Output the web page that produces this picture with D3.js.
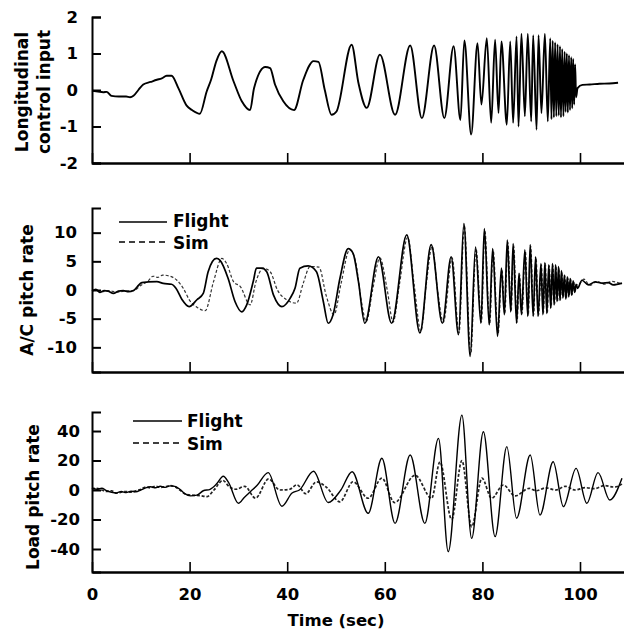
<!DOCTYPE html>
<html><head><meta charset="utf-8">
<script src="https://cdn.jsdelivr.net/npm/d3@7"></script>
<style>
html,body{margin:0;padding:0;background:#fff;}
svg{display:block;}
text{font-family:"DejaVu Sans",sans-serif;font-weight:bold;fill:#000;}
</style></head>
<body>
<svg id="chart" width="624" height="634"></svg>
<script>
// ---------------- DATA ----------------
const xTicks = [0, 20, 40, 60, 80, 100];
const controlTicks = [-2, -1, 0, 1, 2];
const acTicks = [-10, -5, 0, 5, 10];
const loadTicks = [-40, -20, 0, 20, 40];
const legendLabels = ["Flight", "Sim"];
const yTitles = [["Longitudinal", "control input"], ["A/C pitch rate"], ["Load pitch rate"]];
const xTitle = "Time (sec)";

// Longitudinal control input [time, value]
const controlInput = [[0,-0.02],[1.2,-0.04],[2.3,-0.06],[3,-0.05],[4,-0.16],[5.5,-0.18],[7,-0.18],[7.8,-0.2],[8.5,-0.16],[9.5,0.0],[10.5,0.15],[12,0.22],[13.3,0.28],[14.3,0.32],[15.3,0.39],[16.3,0.39],[17.7,0.05],[19.4,-0.43],[20.5,-0.55],[22.1,-0.65],[23.5,-0.04],[24.4,0.28],[25.5,0.8],[26.6,1.06],[29,0.24],[30.7,-0.31],[32.4,-0.55],[33.2,0.05],[35.5,0.63],[36.5,0.6],[37.5,0.15],[39.2,-0.31],[41.4,-0.55],[43.3,0.28],[45.4,0.79],[46.4,0.77],[47.7,0.0],[49.1,-0.68],[50.1,-0.59],[53.2,1.24],[54.6,0.19],[56.3,-0.49],[59,0.97],[62.1,-0.68],[65.2,1.22],[67.6,-0.77],[70.1,1.22],[72.2,-0.77],[74.1,1.2],[75.5,-0.82],[76.3,1.36],[77.7,-1.22],[79.0,1.28],[79.8,-0.40],[80.9,1.42],[81.8,-0.90],[82.6,1.38],[83.3,-0.63],[83.9,1.33],[85.0,-0.95],[85.7,1.33],[86.3,-0.9],[87.0,1.47],[87.4,-1.0],[88.0,1.54],[88.7,-0.72],[89.3,1.54],[90.0,-0.86],[90.4,1.5],[91.1,-1.09],[91.5,1.5],[92.1,-0.63],[92.8,1.54],[93.4,-0.86],[93.9,1.42],[94.15,-0.8],[94.4,1.35],[94.65,-0.75],[94.9,1.3],[95.15,-0.72],[95.4,1.25],[95.65,-0.7],[95.9,1.2],[96.1,-0.75],[96.35,1.12],[96.6,-0.72],[96.85,1.05],[97.05,-0.6],[97.3,1.0],[97.5,-0.62],[97.75,0.95],[97.95,-0.55],[98.2,0.9],[98.4,-0.5],[98.6,0.85],[98.8,-0.4],[99.0,0.7],[99.2,-0.2],[99.5,0.05],[100.5,0.14],[102,0.15],[104,0.17],[106,0.18],[107.8,0.2]];

// A/C pitch rate
const acFlight = [[0,-0.2],[0.8,0.1],[1.6,-0.4],[2.5,-0.1],[3.3,-0.2],[4.4,-0.6],[5.4,-0.2],[6.4,-0.1],[7.5,-0.3],[8.5,-0.1],[9.3,0.6],[10.2,1.3],[11.5,1.4],[13.3,1.45],[14.6,1.15],[16.3,1.0],[17.2,0.3],[18.4,-1.6],[19.9,-2.9],[21.5,-1.7],[22.8,-0.6],[23.8,3.2],[25.5,5.5],[26.2,5.2],[27.9,2.0],[29.3,-2.0],[30.7,-3.8],[31.7,-2.6],[33.1,1.7],[33.7,3.8],[34.8,3.8],[35.8,3.2],[37.2,-0.9],[38.9,-2.9],[40.6,-1.45],[41.6,0.3],[42.6,3.8],[44.3,4.2],[46,3.2],[47.4,-2.0],[48.4,-5.8],[49.4,-4.3],[50.8,2.0],[52.5,7.2],[53.5,6.4],[54.6,1.45],[55.9,-5.8],[58.7,5.8],[61.4,-5.8],[64.5,9.6],[67.2,-7.5],[69.5,7.9],[71.8,-5.8],[73.6,5.8],[75.1,-7.8],[76.2,11.6],[77.5,-11.6],[78.6,7.5],[79.7,-5.8],[80.4,10.7],[81.4,-6.1],[82.1,7.2],[83.1,-8.1],[83.9,3.8],[84.5,-4.3],[85.1,8.7],[85.8,-3.8],[86.3,8.1],[87.0,-5.8],[87.5,2.9],[88.0,-4.3],[88.7,7.0],[89.3,-4.6],[89.8,7.9],[90.4,-4.6],[90.9,5.8],[91.4,-4.6],[92.0,4.6],[92.4,-4.3],[92.8,4.8],[93.2,-4.1],[93.6,4.4],[94.0,-3.2],[94.35,4.6],[94.7,-2.6],[95.0,4.4],[95.3,-2.0],[95.6,4.1],[95.9,-1.8],[96.2,3.4],[96.5,-1.4],[96.8,2.6],[97.1,-1.6],[97.4,2.3],[97.7,-1.2],[98.0,2.0],[98.3,-0.9],[98.6,1.6],[98.9,-0.4],[99.2,1.0],[99.5,0.3],[100.4,1.7],[101.7,0.9],[103.1,1.4],[104.5,1.2],[105.8,1.3],[106.8,0.9],[108.6,1.2]];
const acSim = [[0,-0.1],[1,0.0],[2,-0.3],[3.5,-0.1],[5,-0.4],[6.5,-0.2],[8.5,-0.1],[10,0.8],[11.5,1.6],[12.5,2.4],[13.5,2.2],[14.5,2.6],[16,2.4],[17.4,1.7],[18.7,0.3],[20,-1.8],[21.5,-3.0],[23.2,-3.6],[24.9,1.45],[26.6,5.5],[27.6,4.6],[29,1.45],[30.4,0.6],[32.4,-2.6],[33.6,1.45],[35.1,3.8],[36.5,3.2],[38,0.0],[39.9,-1.7],[41.9,-2.3],[43.3,1.2],[44.7,4.1],[46.5,4.0],[48,-1.0],[49.6,-4.3],[51,1.0],[52.8,7.0],[54.0,5.0],[55.2,-2.0],[56.2,-5.5],[57.5,0.0],[59.0,5.6],[60.5,0.0],[61.7,-5.6],[63,1.0],[64.7,9.2],[66,1.0],[67.4,-7.2],[68.5,1.0],[69.7,7.6],[70.8,0.0],[72.0,-5.6],[73.8,5.6],[75.2,-7.5],[76.3,11.2],[77.6,-11.2],[78.7,7.2],[79.8,-5.6],[80.5,10.4],[81.5,-6.0],[82.2,7.0],[83.2,-7.8],[84.0,3.6],[84.6,-4.2],[85.2,8.4],[85.9,-3.6],[86.4,7.8],[87.1,-5.6],[87.6,2.8],[88.1,-4.2],[88.8,6.8],[89.4,-4.4],[89.9,7.6],[90.5,-4.4],[91.0,5.6],[91.5,-4.4],[92.1,4.4],[92.5,-4.1],[92.9,4.6],[93.3,-4.0],[93.7,4.2],[94.1,-3.0],[94.45,4.4],[94.8,-2.5],[95.1,4.2],[95.4,-2.0],[95.7,3.9],[96.0,-1.7],[96.3,3.2],[96.6,-1.3],[96.9,2.5],[97.2,-1.5],[97.5,2.2],[97.8,-1.0],[98.1,1.9],[98.4,-0.8],[98.7,1.5],[99.0,-0.3],[99.3,0.9],[99.8,1.0],[100.8,1.9],[102,0.8],[103.5,1.5],[105,1.0],[106.5,1.5],[108.6,1.0]];

// Load pitch rate
const loadFlight = [[0,1.5],[1,0.5],[2,1.2],[3,-0.5],[4,-1.5],[5,-2],[6,-1],[7,-1.8],[8,-0.8],[9,-1.2],[10,0],[11,1.5],[12,2.2],[13,1.5],[14,2.5],[15,1.8],[16,2.8],[17,2.5],[18,0.5],[19,-2.5],[20.2,-4],[21.5,-3.5],[22.8,-0.5],[24.2,0.5],[25.5,4],[26.9,9.3],[28,5],[30,-9],[31.2,-5],[32.5,-1],[33.8,3],[36.1,11.8],[38.9,-11],[41,-2],[42.5,0],[45.4,12.7],[48.4,-8.5],[51,0],[53.3,12.4],[56.6,-15.8],[59.4,21.5],[62.1,-22.6],[65.2,23.7],[68.2,-22.6],[71.0,35],[73.0,-41.8],[75.8,50.8],[77.8,-32.8],[80.2,39.5],[82.6,-31.6],[85,29.4],[87,-19.2],[89.8,23.7],[91.8,-17],[94.5,19.2],[96.6,-11.3],[99.2,14.7],[101.4,-9.0],[103.7,11.8],[106.1,-6.8],[108.6,8]];
const loadSim = [[0,0.5],[1,1.2],[2,0],[3,-1],[4,-0.5],[5,-2.2],[6,-1.5],[7,-1],[8,-1.5],[9,-0.5],[10,0.5],[11,2],[12,1.5],[13,2.5],[14,1.8],[15,2.2],[16,3],[17,2.2],[18,0],[19,-2.5],[20.5,-3.5],[22.1,-3.8],[23.5,-4.5],[25,0],[26.8,6.5],[28.2,2],[29.5,0.5],[31.3,2.5],[33.5,-5.5],[36.2,7.5],[38.5,0],[40.5,0.5],[42,3.5],[43.8,-2.5],[46,5.5],[48,2],[50.8,-8],[53.5,5.6],[56.6,-5.6],[59.4,8],[62,-8.5],[66.2,10],[69.6,-5.6],[71.3,19],[73.7,-20],[75.8,20],[77.8,-25],[79.9,8],[81.9,-5.6],[84.3,3.4],[86.7,-4],[89.6,1.1],[91,-0.5],[93,1.5],[95,0],[97,2.5],[99,0],[101,1.6],[103,1],[105,3],[107,2],[108.6,4]];

// ---------------- DRAW ----------------
const svg = d3.select("#chart");
const x = d3.scaleLinear().domain([0, 110]).range([92, 628.8]);
const fmt = d => String(d);

const panels = [
  {y: d3.scaleLinear().domain([-2, 2]).range([163, 17]), ticks: controlTicks, pad: 14,
   series: [{data: controlInput, w: 1.9, dash: null, color: "#000"}],
   titles: yTitles[0], titleX: [28, 50], titleY: 92, labels: false, legend: null},
  {y: d3.scaleLinear().domain([-14.3, 14.3]).range([372, 208]), ticks: acTicks, pad: 15,
   series: [{data: acSim, w: 1.2, dash: "3,2", color: "#333"}, {data: acFlight, w: 1.7, dash: null, color: "#000"}],
   titles: yTitles[1], titleX: [33], titleY: 290, labels: false,
   legend: {x1: 119, x2: 167, y: [222, 242], tx: 173, ty: [227, 249]}},
  {y: d3.scaleLinear().domain([-55.6, 52.9]).range([572, 412]), ticks: loadTicks, pad: 12,
   series: [{data: loadSim, w: 1.7, dash: "3,1.8", color: "#222"}, {data: loadFlight, w: 1.4, dash: null, color: "#000"}],
   titles: yTitles[2], titleX: [39], titleY: 497, labels: true,
   legend: {x1: 133, x2: 182, y: [421, 443], tx: 187, ty: [427, 450]}}
];

panels.forEach(p => {
  const g = svg.append("g");
  p.series.forEach(s => {
    const line = d3.line().x(d => x(d[0])).y(d => p.y(d[1])).curve(d3.curveMonotoneX);
    g.append("path").datum(s.data).attr("d", line)
      .attr("fill", "none").attr("stroke", s.color).attr("stroke-width", s.w)
      .attr("stroke-dasharray", s.dash).attr("stroke-linejoin", "round");
  });
  const ya = g.append("g").attr("transform", `translate(${x(0)},0)`)
    .call(d3.axisLeft(p.y).tickValues(p.ticks).tickSize(-9).tickSizeOuter(-9).tickPadding(p.pad).tickFormat(fmt));
  ya.selectAll("path,line").attr("stroke", "#000").attr("stroke-width", 2);
  ya.selectAll("text").attr("font-size", 16.5).attr("font-family", "DejaVu Sans").attr("font-weight", "bold");
  const xa = g.append("g").attr("transform", `translate(0,${p.y.range()[0]})`)
    .call(d3.axisBottom(x).tickValues(xTicks).tickSize(-10).tickSizeOuter(0).tickPadding(16)
      .tickFormat(p.labels ? fmt : () => ""));
  xa.selectAll("path").attr("stroke", "#000").attr("stroke-width", 2.6);
  xa.selectAll("line").attr("stroke", "#000").attr("stroke-width", 1.6);
  xa.selectAll("text").attr("font-size", 16.5).attr("font-family", "DejaVu Sans").attr("font-weight", "bold");
  p.titles.forEach((t, i) => {
    g.append("text").attr("transform", `translate(${p.titleX[i]},${p.titleY}) rotate(-90)`)
      .attr("text-anchor", "middle").attr("font-size", 17).text(t);
  });
  if (p.legend) {
    const L = p.legend;
    legendLabels.forEach((lab, i) => {
      g.append("line").attr("x1", L.x1).attr("x2", L.x2).attr("y1", L.y[i]).attr("y2", L.y[i])
        .attr("stroke", "#000").attr("stroke-width", 1.6).attr("stroke-dasharray", i === 1 ? "6,4" : null);
      g.append("text").attr("x", L.tx).attr("y", L.ty[i]).attr("font-size", 17).text(lab);
    });
  }
});

svg.append("text").attr("x", 336).attr("y", 626).attr("text-anchor", "middle")
  .attr("font-size", 16.5).text(xTitle);
</script>
</body></html>
